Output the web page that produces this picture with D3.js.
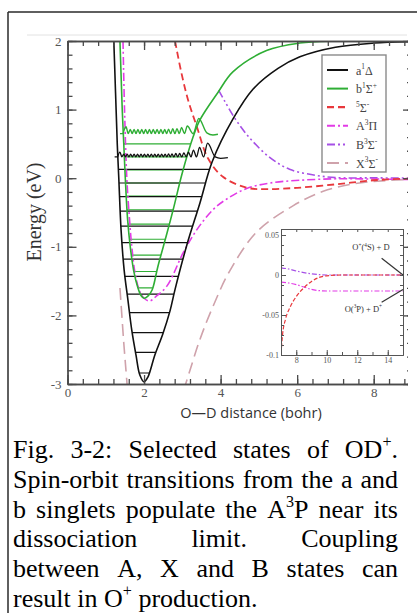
<!DOCTYPE html>
<html>
<head>
<meta charset="utf-8">
<script src="https://cdn.jsdelivr.net/npm/d3@7"></script>
<style>
  html, body { margin: 0; padding: 0; background: #fff; }
  svg { display: block; }
</style>
</head>
<body>
<svg id="fig" width="417" height="613"></svg>
<script>
// ---------- Potential curves of OD+ (r in bohr, E in eV) ----------
const aDeltaLeft  = [[1.21, 2.0], [1.24, 1.5], [1.27, 1.0], [1.30, 0.5], [1.34, 0.0], [1.40, -0.76], [1.48, -1.34], [1.58, -1.78], [1.68, -2.22], [1.79, -2.58], [1.89, -2.87], [2.0, -2.97]];
const aDeltaRight = [[2.0, -2.97], [2.10, -2.90], [2.28, -2.58], [2.49, -2.27], [2.68, -1.93], [2.81, -1.62], [3.12, -0.97], [3.46, -0.36], [3.78, 0.24], [4.32, 0.86], [4.85, 1.30], [5.5, 1.60], [6.07, 1.77], [7.0, 1.91], [8.0, 1.97], [9.0, 1.99]];

const bSigmaLeft  = [[1.37, 2.0], [1.40, 1.5], [1.43, 1.0], [1.47, 0.5], [1.51, 0.0], [1.57, -0.6], [1.64, -1.0], [1.73, -1.35], [1.83, -1.58], [1.92, -1.71], [2.0, -1.75]];
const bSigmaRight = [[2.0, -1.75], [2.10, -1.72], [2.21, -1.63], [2.36, -1.29], [2.60, -0.80], [2.76, -0.46], [3.00, 0.08], [3.28, 0.60], [3.46, 0.85], [3.93, 1.25], [4.32, 1.55], [5.2, 1.86], [6.07, 1.97], [7.0, 2.0], [9.0, 2.0]];

const quintet = [[2.81, 2.0], [2.97, 1.55], [3.15, 1.14], [3.38, 0.75], [3.67, 0.29], [4.06, 0.02], [4.69, -0.14], [5.2, -0.16], [6.0, -0.14], [7.0, -0.09], [8.0, -0.03], [9.0, -0.005]];

const aPi = [[1.45, 2.0], [1.49, 1.0], [1.55, 0.0], [1.62, -0.6], [1.68, -1.0], [1.77, -1.4], [1.88, -1.64], [2.0, -1.75], [2.15, -1.79], [2.3, -1.73], [2.6, -1.57], [3.02, -1.09], [3.38, -0.75], [3.8, -0.46], [4.17, -0.30], [4.68, -0.15], [5.29, -0.07], [6.07, -0.03], [7.0, -0.009], [8.0, -0.012], [9.0, -0.018]];

const bSigmaMinus = [[3.95, 1.28], [4.11, 1.12], [4.4, 0.85], [4.77, 0.58], [5.29, 0.30], [5.8, 0.13], [6.4, 0.05], [7.0, 0.009], [8.0, 0.005], [9.0, 0.001]];

const xSigmaLeft  = [[1.37, -1.6], [1.42, -2.0], [1.47, -2.4], [1.52, -2.75], [1.57, -3.1]];
const xSigmaRight = [[3.03, -3.1], [3.2, -2.8], [3.46, -2.35], [3.8, -1.87], [4.24, -1.35], [4.95, -0.78], [5.9, -0.40], [6.68, -0.19], [7.5, -0.08], [8.3, -0.035], [9.0, -0.02]];

// vibrational levels (eV)
const aLevels = [-2.84, -2.54, -2.25, -1.96, -1.69, -1.43, -1.18, -0.94, -0.70, -0.48, -0.27, -0.07, 0.13];
const bLevels = [-1.60, -1.36, -1.12, -0.89, -0.67, -0.46, -0.26, -0.07, 0.12, 0.31, 0.50];

// near-dissociation wavefunctions: baseline energy, hump centres [r, height]
const aWaveBase = 0.31;
const aWaveStart = 1.31;
const aWaveHumps = [[1.37, 0.07], [1.47, 0.04], [1.56, 0.04], [1.65, 0.04], [1.74, 0.04], [1.83, 0.04], [1.92, 0.04], [2.01, 0.04], [2.10, 0.04], [2.19, 0.04], [2.28, 0.04], [2.37, 0.04], [2.46, 0.04], [2.55, 0.04], [2.64, 0.045], [2.73, 0.045], [2.83, 0.05], [2.93, 0.05], [3.04, 0.06], [3.16, 0.07], [3.29, 0.10], [3.45, 0.14], [3.66, 0.20]];
const aWaveTail = [[3.86, 0.31], [4.0, 0.29], [4.19, 0.30]];

const bWaveBase = 0.65;
const bWaveStart = 1.45;
const bWaveHumps = [[1.53, 0.10], [1.64, 0.06], [1.74, 0.06], [1.84, 0.06], [1.94, 0.06], [2.04, 0.06], [2.14, 0.06], [2.24, 0.06], [2.34, 0.06], [2.44, 0.06], [2.54, 0.06], [2.64, 0.065], [2.75, 0.07], [2.86, 0.07], [2.98, 0.09], [3.13, 0.11], [3.43, 0.22]];
const bWaveTail = [[3.64, 0.66], [3.8, 0.63], [3.93, 0.64]];

// inset: asymptotic region (r in bohr, E in eV)
const insetQuintet = [[7.0, -0.098], [7.1, -0.075], [7.3, -0.055], [7.6, -0.04], [8.0, -0.027], [8.5, -0.016], [9.0, -0.008], [9.5, -0.003], [10.0, -0.001], [11.0, 0], [15.0, 0]];
const insetUpper = [[7.0, 0.009], [7.5, 0.0075], [8.0, 0.005], [8.5, 0.003], [9.0, 0.0015], [9.5, 0.0005], [10.0, 0], [15.0, 0]];
const insetLower = [[7.0, -0.009], [7.5, -0.010], [8.0, -0.012], [8.5, -0.015], [9.0, -0.018], [9.5, -0.0195], [10.0, -0.02], [15.0, -0.02]];

// axis ticks
const xMajor = [0, 2, 4, 6, 8];
const yMajor = [-3, -2, -1, 0, 1, 2];
const insetXMajor = [8, 10, 12, 14];
const insetYMajor = [-0.1, -0.05, 0, 0.05];
const insetYLabels = ["-0.1", "-0.05", "0", "0.05"];

// legend
const legendItems = [
  { key: "a", parts: [["a"], ["1", 1], ["Δ"]] },
  { key: "b", parts: [["b"], ["1", 1], ["Σ"], ["+", 1]] },
  { key: "q", parts: [["5", 1], ["Σ"], ["-", 1]] },
  { key: "A", parts: [["A"], ["3", 1], ["Π"]] },
  { key: "B", parts: [["B"], ["3", 1], ["Σ"], ["-", 1]] },
  { key: "X", parts: [["X"], ["3", 1], ["Σ"], ["-", 1]] }
];

// caption
const captionLines = [
  [[["Fig."]], [["3-2:"]], [["Selected"]], [["states"]], [["of"]], [["OD"], ["+", 1], ["."]]],
  [[["Spin-orbit"]], [["transitions"]], [["from"]], [["the"]], [["a"]], [["and"]]],
  [[["b"]], [["singlets"]], [["populate"]], [["the"]], [["A"], ["3", 1], ["P"]], [["near"]], [["its"]]],
  [[["dissociation"]], [["limit."]], [["Coupling"]]],
  [[["between"]], [["A,"]], [["X"]], [["and"]], [["B"]], [["states"]], [["can"]]],
  [[["result"]], [["in"]], [["O"], ["+", 1]], [["production."]]]
];

// ---------- styles ----------
const style = {
  a: { color: "#111111", dash: null, width: 1.6 },
  b: { color: "#2fae35", dash: null, width: 1.6 },
  q: { color: "#e8383c", dash: "7,4", width: 1.8 },
  A: { color: "#e23be6", dash: "8,3,2,3", width: 1.6 },
  B: { color: "#a650e6", dash: "8,3,2,3,2,3", width: 1.6 },
  X: { color: "#cfa2ab", dash: "12,6", width: 1.6 }
};
const serif = "'Liberation Serif', 'Times New Roman', serif";
const sans = "'Open Sans', 'Liberation Sans', Arial, sans-serif";

const svg = d3.select("#fig");

// outer figure frame
svg.append("line").attr("x1", 8).attr("y1", 12).attr("x2", 417).attr("y2", 12)
  .attr("stroke", "#2a2a2a").attr("stroke-width", 1.5);
svg.append("line").attr("x1", 8).attr("y1", 12).attr("x2", 8).attr("y2", 613)
  .attr("stroke", "#2a2a2a").attr("stroke-width", 1.5);
// faint edge of the plot image
svg.append("line").attr("x1", 27).attr("y1", 35).attr("x2", 407).attr("y2", 35)
  .attr("stroke", "#e2e2e2").attr("stroke-width", 1);

// ---------- main plot ----------
const x = d3.scaleLinear().domain([0, 9]).range([67.5, 412]);
const y = d3.scaleLinear().domain([-3, 2]).range([384, 41]);

const defs = svg.append("defs");
defs.append("clipPath").attr("id", "plotClip").append("rect")
  .attr("x", 67.5).attr("y", 41).attr("width", 408 - 67.5).attr("height", 384 - 41);
defs.append("clipPath").attr("id", "imgClip").append("rect")
  .attr("x", 0).attr("y", 0).attr("width", 408).attr("height", 613);

const plot = svg.append("g").attr("clip-path", "url(#plotClip)");
const line = d3.line().x(d => x(d[0])).y(d => y(d[1])).curve(d3.curveCatmullRom.alpha(0.5));

function crossing(branch, e) {
  for (let i = 0; i < branch.length - 1; i++) {
    const [r0, e0] = branch[i], [r1, e1] = branch[i + 1];
    if ((e0 - e) * (e1 - e) <= 0 && e0 !== e1) {
      return r0 + (e - e0) / (e1 - e0) * (r1 - r0);
    }
  }
  return null;
}

// vibrational level lines
function drawLevels(levels, left, right, color) {
  plot.append("g").selectAll("line").data(levels).join("line")
    .attr("x1", e => x(crossing(left, e)))
    .attr("x2", e => x(crossing(right, e)))
    .attr("y1", e => y(e)).attr("y2", e => y(e))
    .attr("stroke", color).attr("stroke-width", 1.2);
}
drawLevels(bLevels, bSigmaLeft, bSigmaRight, style.b.color);
drawLevels(aLevels, aDeltaLeft, aDeltaRight, style.a.color);

function wavePoints(base, start, humps, tail) {
  const pts = [[start, base]];
  let prev = null;
  humps.forEach(([r, h]) => {
    if (prev !== null) pts.push([(prev + r) / 2, base]);
    pts.push([r, base + h]);
    prev = r;
  });
  return pts.concat(tail);
}
const waveLine = d3.line().x(d => x(d[0])).y(d => y(d[1])).curve(d3.curveMonotoneX);

function drawCurve(g, data, s, gen) {
  g.append("path").datum(data).attr("d", gen || line)
    .attr("fill", "none").attr("stroke", s.color).attr("stroke-width", s.width)
    .attr("stroke-dasharray", s.dash).attr("stroke-linejoin", "round");
}

// potentials
drawCurve(plot, xSigmaLeft, style.X);
drawCurve(plot, xSigmaRight, style.X);
drawCurve(plot, bSigmaMinus, style.B);
drawCurve(plot, aPi, style.A);
drawCurve(plot, quintet, style.q);
drawCurve(plot, bSigmaLeft.concat(bSigmaRight.slice(1)), style.b);
drawCurve(plot, aDeltaLeft.concat(aDeltaRight.slice(1)), style.a);

// wavefunctions
drawCurve(plot, wavePoints(bWaveBase, bWaveStart, bWaveHumps, bWaveTail), { color: style.b.color, width: 1.4 }, waveLine);
plot.append("line").attr("x1", x(bWaveStart) - 3).attr("x2", x(bWaveStart)).attr("y1", y(bWaveBase)).attr("y2", y(bWaveBase))
  .attr("stroke", style.b.color).attr("stroke-width", 1.4);
drawCurve(plot, wavePoints(aWaveBase, aWaveStart, aWaveHumps, aWaveTail), { color: style.a.color, width: 1.3 }, waveLine);
plot.append("line").attr("x1", x(aWaveStart) - 3).attr("x2", x(aWaveStart)).attr("y1", y(aWaveBase)).attr("y2", y(aWaveBase))
  .attr("stroke", style.a.color).attr("stroke-width", 1.3);

// axes
const axesG = svg.append("g").attr("clip-path", "url(#imgClip)");
const axisColor = "#4a4a4a";
function styleAxis(g) {
  g.selectAll("path,line").attr("stroke", axisColor).attr("stroke-width", 1.3);
  g.selectAll("text").attr("fill", "#555").attr("font-family", serif).attr("font-size", 13);
}
const xMinor = d3.range(0, 9.01, 0.4).map(v => +v.toFixed(2));
const yMinor = d3.range(-3, 2.01, 0.2).map(v => +v.toFixed(2));

axesG.append("g").attr("transform", "translate(0,384)")
  .call(d3.axisBottom(x).tickValues(xMajor).tickSize(-9).tickSizeOuter(0).tickPadding(4).tickFormat(d => String(d)))
  .call(styleAxis);
axesG.append("g").attr("transform", "translate(0,384)")
  .call(d3.axisBottom(x).tickValues(xMinor).tickSize(-5).tickSizeOuter(0).tickFormat(""))
  .call(styleAxis);
axesG.append("g").attr("transform", "translate(0,41)")
  .call(d3.axisTop(x).tickValues(xMajor).tickSize(-9).tickSizeOuter(0).tickFormat(""))
  .call(styleAxis);
axesG.append("g").attr("transform", "translate(0,41)")
  .call(d3.axisTop(x).tickValues(xMinor).tickSize(-5).tickSizeOuter(0).tickFormat(""))
  .call(styleAxis);
axesG.append("g").attr("transform", "translate(67.5,0)")
  .call(d3.axisLeft(y).tickValues(yMajor).tickSize(-9).tickSizeOuter(0).tickPadding(6).tickFormat(d => String(d)))
  .call(styleAxis);
axesG.append("g").attr("transform", "translate(67.5,0)")
  .call(d3.axisLeft(y).tickValues(yMinor).tickSize(-5).tickSizeOuter(0).tickFormat(""))
  .call(styleAxis);
axesG.append("g").attr("transform", "translate(412,0)")
  .call(d3.axisRight(y).tickValues(yMajor).tickSize(-9).tickSizeOuter(0).tickFormat(""))
  .call(styleAxis);
axesG.append("g").attr("transform", "translate(412,0)")
  .call(d3.axisRight(y).tickValues(yMinor).tickSize(-5).tickSizeOuter(0).tickFormat(""))
  .call(styleAxis);

// axis titles
svg.append("text").attr("transform", "translate(41,212) rotate(-90)")
  .attr("text-anchor", "middle").attr("font-family", serif).attr("font-size", 20).attr("fill", "#333")
  .text("Energy (eV)");
svg.append("text").attr("x", 251).attr("y", 418)
  .attr("text-anchor", "middle").attr("font-family", sans).attr("font-size", 14.5).attr("fill", "#333")
  .text("O—D distance (bohr)");

// rich text helper: parts = [[text, isSup], ...]
function rich(textSel, parts, size) {
  let raised = false;
  parts.forEach(([t, sup]) => {
    const ts = textSel.append("tspan").text(t);
    if (sup && !raised) { ts.attr("dy", -0.42 * size).attr("font-size", 0.62 * size); raised = true; }
    else if (sup) { ts.attr("font-size", 0.62 * size); }
    else if (!sup && raised) { ts.attr("dy", 0.42 * size); raised = false; }
  });
  return textSel;
}

// legend
const legend = svg.append("g");
legend.append("rect").attr("x", 322).attr("y", 55).attr("width", 64).attr("height", 117)
  .attr("fill", "#fff").attr("stroke", "#8a8a8a").attr("stroke-width", 1.4);
legendItems.forEach((it, i) => {
  const ly = 70 + i * 18.6;
  const s = style[it.key];
  legend.append("line").attr("x1", 327).attr("x2", 348).attr("y1", ly).attr("y2", ly)
    .attr("stroke", s.color).attr("stroke-width", s.width + 0.4).attr("stroke-dasharray", s.dash);
  const t = legend.append("text").attr("x", 356).attr("y", ly + 4.5)
    .attr("font-family", serif).attr("font-size", 12).attr("fill", "#444");
  rich(t, it.parts, 12);
});

// ---------- inset ----------
const xi = d3.scaleLinear().domain([7, 15]).range([281, 403]);
const yi = d3.scaleLinear().domain([-0.1, 0.0575]).range([355, 229]);
const inset = svg.append("g").attr("clip-path", "url(#imgClip)");
inset.append("rect").attr("x", 281).attr("y", 229).attr("width", 122).attr("height", 126).attr("fill", "#fff");
defs.append("clipPath").attr("id", "insetClip").append("rect")
  .attr("x", 281).attr("y", 229).attr("width", 122).attr("height", 126);
const insetPlot = inset.append("g").attr("clip-path", "url(#insetClip)");
const lineI = d3.line().x(d => xi(d[0])).y(d => yi(d[1])).curve(d3.curveMonotoneX);
[[insetUpper, style.B, "5,2,1.5,2"], [insetLower, style.A, "5,2,1.5,2"], [insetQuintet, style.q, "4,2"]].forEach(([data, s, dash]) => {
  insetPlot.append("path").datum(data).attr("d", lineI).attr("fill", "none")
    .attr("stroke", s.color).attr("stroke-width", 1.2).attr("stroke-dasharray", dash);
});

function styleInsetAxis(g) {
  g.selectAll("path,line").attr("stroke", "#555").attr("stroke-width", 1);
  g.selectAll("text").attr("fill", "#555").attr("font-family", serif).attr("font-size", 8);
}
const insetXMinor = d3.range(7, 15.01, 1);
const insetYMinor = d3.range(-0.1, 0.0576, 0.0125).map(v => +v.toFixed(4));
inset.append("g").attr("transform", "translate(0,355)")
  .call(d3.axisBottom(xi).tickValues(insetXMajor).tickSize(-5).tickSizeOuter(0).tickPadding(2).tickFormat(d => String(d)))
  .call(styleInsetAxis);
inset.append("g").attr("transform", "translate(0,355)")
  .call(d3.axisBottom(xi).tickValues(insetXMinor).tickSize(-3).tickSizeOuter(0).tickFormat(""))
  .call(styleInsetAxis);
inset.append("g").attr("transform", "translate(0,229)")
  .call(d3.axisTop(xi).tickValues(insetXMinor).tickSize(-3).tickSizeOuter(0).tickFormat(""))
  .call(styleInsetAxis);
inset.append("g").attr("transform", "translate(281,0)")
  .call(d3.axisLeft(yi).tickValues(insetYMajor).tickSize(-5).tickSizeOuter(0).tickPadding(2).tickFormat((d, i) => insetYLabels[i]))
  .call(styleInsetAxis);
inset.append("g").attr("transform", "translate(281,0)")
  .call(d3.axisLeft(yi).tickValues(insetYMinor).tickSize(-3).tickSizeOuter(0).tickFormat(""))
  .call(styleInsetAxis);
inset.append("g").attr("transform", "translate(403,0)")
  .call(d3.axisRight(yi).tickValues(insetYMinor).tickSize(-3).tickSizeOuter(0).tickFormat(""))
  .call(styleInsetAxis);

// asymptote annotations
const annO4S = inset.append("text").attr("x", xi(12.9)).attr("y", yi(0.031)).attr("text-anchor", "middle")
  .attr("font-family", serif).attr("font-size", 8.5).attr("fill", "#333");
rich(annO4S, [["O"], ["+", 1], ["("], ["4", 1], ["S) + D"]], 8.5);
const annO3P = inset.append("text").attr("x", xi(12.4)).attr("y", yi(-0.046)).attr("text-anchor", "middle")
  .attr("font-family", serif).attr("font-size", 8.5).attr("fill", "#333");
rich(annO3P, [["O("], ["3", 1], ["P) + D"], ["+", 1]], 8.5);
inset.append("line").attr("x1", xi(13.6)).attr("y1", yi(0.021)).attr("x2", xi(15)).attr("y2", yi(0))
  .attr("stroke", "#333").attr("stroke-width", 1.2);
inset.append("line").attr("x1", xi(13.6)).attr("y1", yi(-0.034)).attr("x2", xi(15)).attr("y2", yi(-0.018))
  .attr("stroke", "#333").attr("stroke-width", 1.2);

// ---------- caption (justified) ----------
const capSize = 26, capLeft = 13, capRight = 398, capTop = 458, capStep = 29.8;
const cap = svg.append("g").attr("font-family", serif).attr("font-size", capSize).attr("fill", "#000");
captionLines.forEach((words, li) => {
  const by = capTop + li * capStep;
  const nodes = words.map(parts => rich(cap.append("text").attr("y", by), parts, capSize));
  const widths = nodes.map(n => n.node().getComputedTextLength());
  const total = d3.sum(widths);
  const last = li === captionLines.length - 1;
  const gap = last ? capSize * 0.25 : (capRight - capLeft - total) / (words.length - 1);
  let cx = capLeft;
  nodes.forEach((n, i) => { n.attr("x", cx); cx += widths[i] + gap; });
});
</script>
</body>
</html>
